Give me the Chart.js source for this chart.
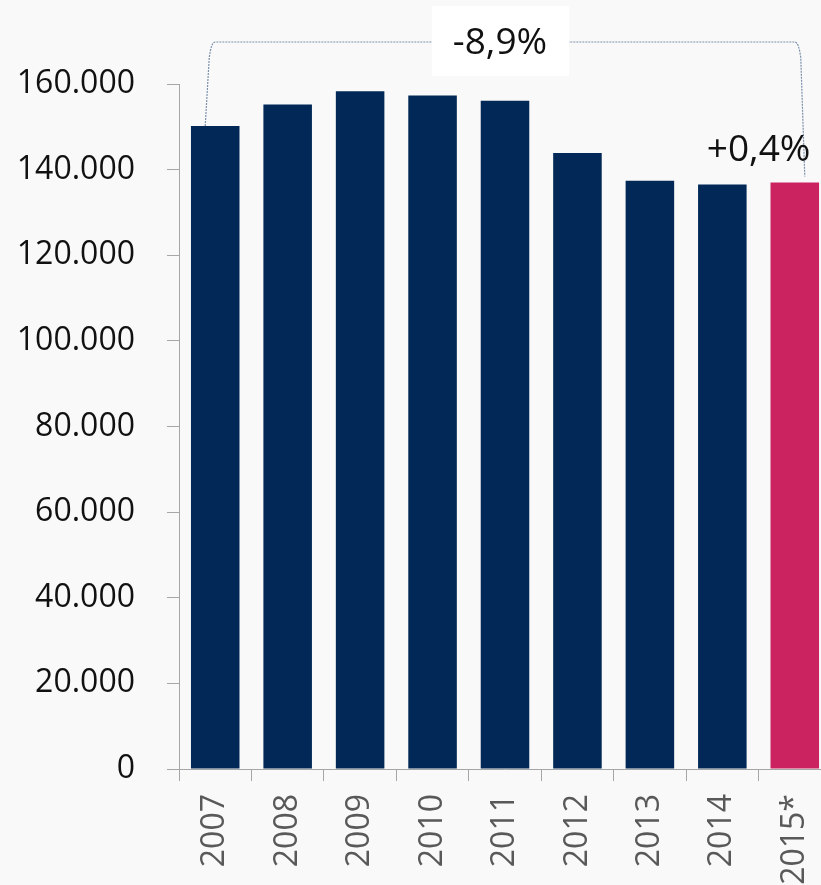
<!DOCTYPE html>
<html>
<head>
<meta charset="utf-8">
<script src="https://cdn.jsdelivr.net/npm/chart.js@4"></script>
<style>
  html, body { margin: 0; padding: 0; background: #f9f9f9; overflow: hidden; }
  #wrap { width: 850px; height: 885px; position: relative; }
</style>
</head>
<body>
<div id="wrap"><canvas id="c"></canvas></div>
<script>
// ---- data ----
const years = ['2007', '2008', '2009', '2010', '2011', '2012', '2013', '2014', '2015*'];
const values = [150200, 155200, 158300, 157300, 156100, 143900, 137400, 136500, 137000];
const yTicks = [0, 20000, 40000, 60000, 80000, 100000, 120000, 140000, 160000];
const totalChangeLabel = '-8,9%';
const lastChangeLabel = '+0,4%';

const NAVY = '#012856';
const PINK = '#CB2260';
const AXIS = '#a6a6a6';
const FONT = "'Open Sans', 'Noto Sans', sans-serif";

function fmt(v) {
  return String(v).replace(/\B(?=(\d{3})+(?!\d))/g, '.');
}

const annotationPlugin = {
  id: 'bracket',
  afterDatasetsDraw(chart) {
    const ctx = chart.ctx;
    const x = chart.scales.x;
    const y = chart.scales.y;
    const last = values.length - 1;
    const x0 = x.getPixelForValue(0);
    const x1 = x.getPixelForValue(last);
    const top0 = y.getPixelForValue(values[0]);
    const top1 = y.getPixelForValue(values[last]);
    const yTop = chart.chartArea.top - 42;

    ctx.save();
    ctx.strokeStyle = '#7d91ab';
    ctx.lineWidth = 1.2;
    ctx.setLineDash([2, 1]);
    ctx.beginPath();
    ctx.moveTo(x0 - 10, top0);
    ctx.lineTo(x0 - 6, yTop + 16);
    ctx.quadraticCurveTo(x0 - 4, yTop, x0, yTop);
    ctx.lineTo(x1, yTop);
    ctx.quadraticCurveTo(x1 + 4, yTop, x1 + 6, yTop + 16);
    ctx.lineTo(x1 + 10, top1 - 6);
    ctx.stroke();
    ctx.setLineDash([]);

    // white box with total change
    const cx = (x0 + x1) / 2 - 5;
    ctx.fillStyle = '#ffffff';
    ctx.fillRect(cx - 68, yTop - 36, 137, 70);
    ctx.fillStyle = '#111111';
    ctx.font = '37px ' + FONT;
    ctx.textAlign = 'center';
    ctx.textBaseline = 'middle';
    ctx.fillText(totalChangeLabel, cx, yTop + 1);

    // last year change
    const lx = x.getPixelForValue(last - 0.5);
    ctx.fillText(lastChangeLabel, lx, top1 - 32);
    ctx.restore();
  }
};

new Chart(document.getElementById('c'), {
  type: 'bar',
  data: {
    labels: years,
    datasets: [{
      data: values,
      backgroundColor: (c) => c.dataIndex === values.length - 1 ? PINK : NAVY,
      borderWidth: 0,
      categoryPercentage: 1,
      barPercentage: 0.67
    }]
  },
  options: {
    responsive: true,
    maintainAspectRatio: false,
    animation: false,
    layout: { padding: { top: 84, right: 19, left: 0, bottom: 0 } },
    plugins: { legend: { display: false }, tooltip: { enabled: false } },
    scales: {
      x: {
        grid: { drawOnChartArea: false, tickLength: 12, color: AXIS, tickColor: AXIS, offset: true },
        border: { color: AXIS, width: 1 },
        ticks: {
          color: '#595959',
          font: { family: FONT, size: 32 },
          minRotation: 90, maxRotation: 90,
          padding: 13,
          autoSkip: false
        },
        afterFit(s) { s.height = 116; }
      },
      y: {
        min: 0, max: 160000,
        afterBuildTicks(s) { s.ticks = yTicks.map(v => ({ value: v })); },
        grid: { drawOnChartArea: false, tickLength: 12, color: AXIS, tickColor: AXIS },
        border: { color: AXIS, width: 1 },
        ticks: {
          color: '#111111',
          font: { family: FONT, size: 32 },
          padding: 32,
          callback: (v) => fmt(v)
        },
        afterFit(s) { s.width = 179; }
      }
    }
  },
  plugins: [annotationPlugin]
});
</script>
</body>
</html>
